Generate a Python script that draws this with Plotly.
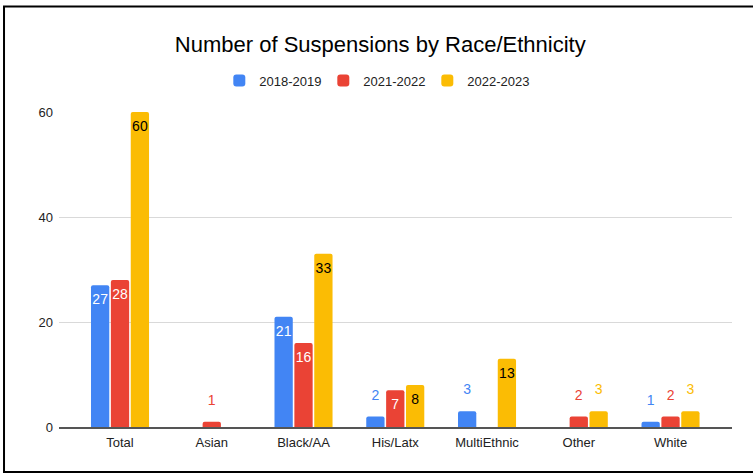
import plotly.graph_objects as go

categories = ["Total", "Asian", "Black/AA", "His/Latx", "MultiEthnic", "Other", "White"]
series_names = ["2018-2019", "2021-2022", "2022-2023"]
values_2018_2019 = [27, 0, 21, 2, 3, 0, 1]
values_2021_2022 = [28, 1, 16, 7, 0, 2, 2]
values_2022_2023 = [60, 0, 33, 8, 13, 3, 3]
y_ticks = [0, 20, 40, 60]

colors = ["#4285F4", "#EA4335", "#FBBC04"]
inside_text_colors = ["#FFFFFF", "#FFFFFF", "#000000"]
FONT = "Liberation Sans, Arial, sans-serif"
GAP = 0.35

fig = go.Figure()
all_values = [values_2018_2019, values_2021_2022, values_2022_2023]

for name, vals, col in zip(series_names, all_values, colors):
    fig.add_trace(go.Bar(
        x=categories, y=vals, name=name,
        marker=dict(color=col, cornerradius=2, line=dict(width=0)),
        hoverinfo="skip",
    ))

# value labels: tall bars carry the label inside near the top,
# short bars show it above the bar in the series colour
for name, vals, col, in_col in zip(series_names, all_values, colors, inside_text_colors):
    inside = [v >= 5 for v in vals]
    fig.add_trace(go.Scatter(
        x=categories, y=vals, mode="text+markers",
        text=[str(v) if v else "" for v in vals],
        textposition=["bottom center" if i else "top center" for i in inside],
        textfont=dict(family=FONT, size=14,
                      color=[in_col if i else col for i in inside]),
        marker=dict(size=[12 if i else 20 for i in inside],
                    color="rgba(0,0,0,0)", line=dict(width=0)),
        showlegend=False, hoverinfo="skip", cliponaxis=False,
    ))

fig.update_layout(
    width=753, height=475,
    margin=dict(l=59, r=21, t=112, b=48),
    paper_bgcolor="white", plot_bgcolor="white",
    barmode="group", bargap=GAP, bargroupgap=0.08,
    scattermode="group", scattergap=GAP,
    title=dict(text="Number of Suspensions by Race/Ethnicity",
               font=dict(family=FONT, size=22, color="#000000"),
               x=0.505, xanchor="center", y=0.907, yanchor="middle"),
    legend=dict(orientation="h", x=0.47, xanchor="center", y=1.1, yanchor="middle",
                font=dict(family=FONT, size=13, color="#222222"),
                itemwidth=30, entrywidth=59, entrywidthmode="pixels",
                traceorder="normal"),
    showlegend=True,
)
fig.update_xaxes(range=[-0.665, 6.67], showgrid=False, showline=True,
                 linecolor="#555555", linewidth=1.5, ticks="",
                 ticklabelstandoff=3,
                 tickfont=dict(family=FONT, size=13, color="#222222"))
fig.update_yaxes(range=[0, 60], tickvals=y_ticks, showgrid=True,
                 gridcolor="#D9D9D9", gridwidth=1, zeroline=False,
                 showline=False, ticks="", ticklabelstandoff=5,
                 tickfont=dict(family=FONT, size=13, color="#222222"))

# black frame around the chart
fig.add_shape(type="rect", xref="paper", yref="paper",
              x0=-0.0817, x1=1.05, y0=-0.1428, y1=1.335,
              line=dict(color="#000000", width=2), fillcolor="rgba(0,0,0,0)",
              layer="above")

fig.write_html("out.html")
